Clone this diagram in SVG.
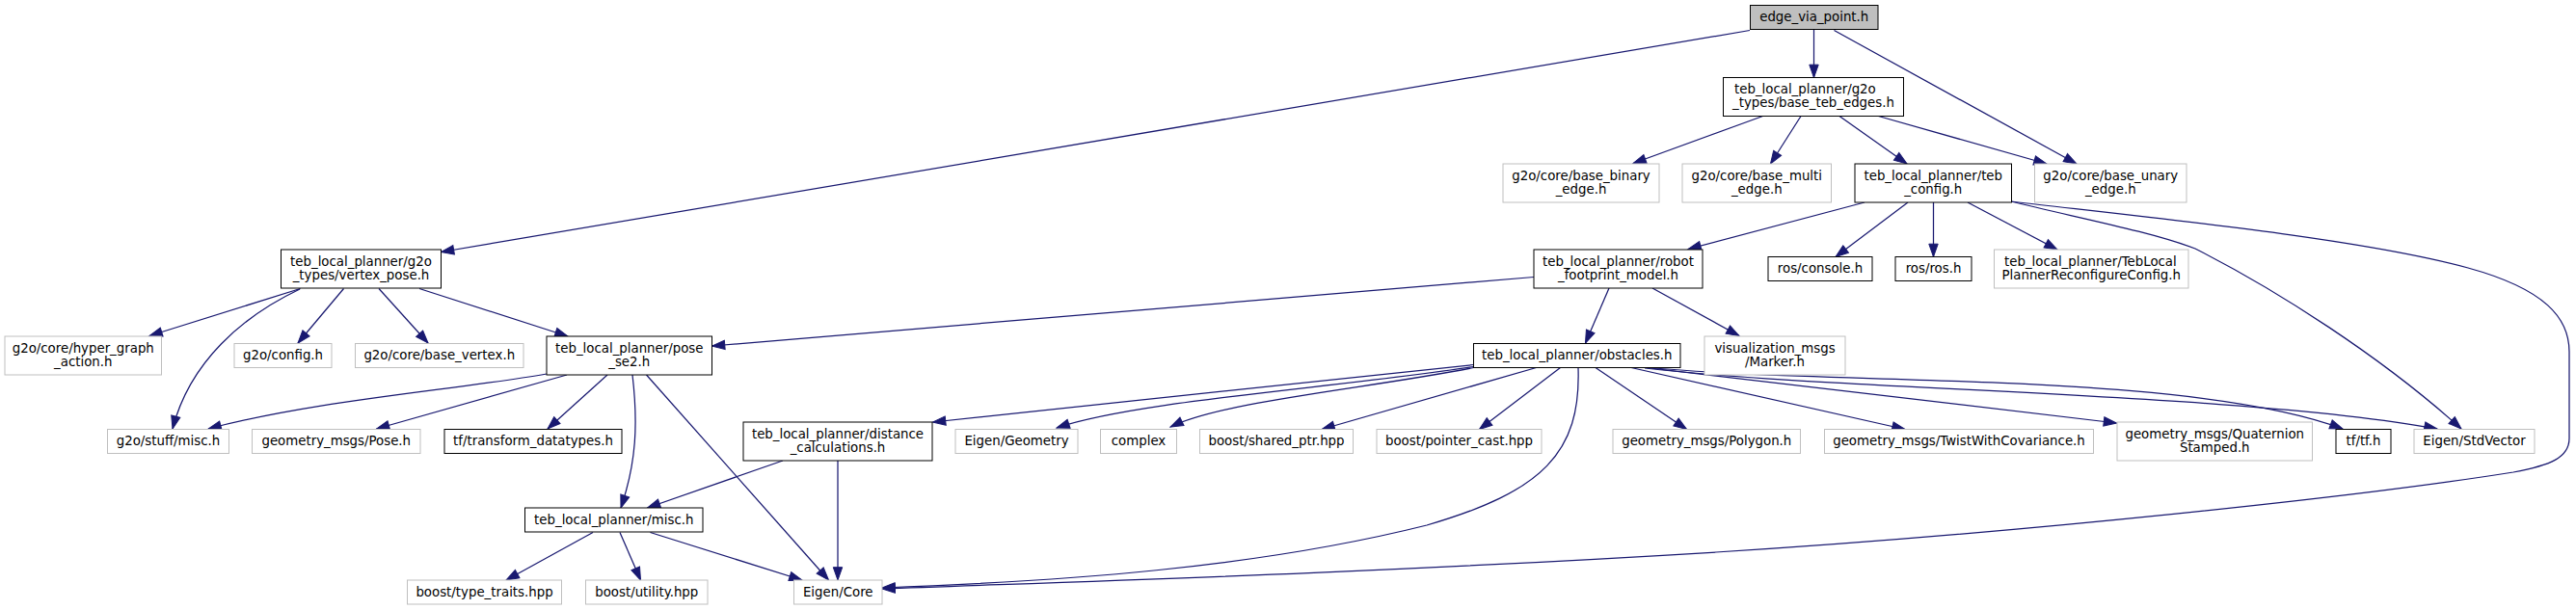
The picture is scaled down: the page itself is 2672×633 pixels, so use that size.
<svg xmlns="http://www.w3.org/2000/svg" width="2672" height="633" viewBox="0 0 2672 633">
<style>
text{font-family:"DejaVu Sans","Liberation Sans",sans-serif;font-size:13.33px;fill:#000;text-anchor:middle}
text.s{text-anchor:start}
rect{fill:#fff;stroke-width:1}
.d rect{stroke:#000}
.u rect{stroke:#bfbfbf}
.r rect{stroke:#000;fill:#bfbfbf}
#edges path{fill:none;stroke:#191970;stroke-width:1.25;marker-end:url(#a)}
</style>
<defs>
<marker id="a" markerUnits="userSpaceOnUse" markerWidth="14" markerHeight="10" refX="13.3" refY="4.7" orient="auto" overflow="visible">
<path d="M0,0 L13.3,4.7 L0,9.4 z" fill="#191970" stroke="#191970" stroke-width="1"/>
</marker>
</defs>
<rect x="0" y="0" width="2672" height="633" style="fill:#fff;stroke:none"/>
<g id="edges">
<path d="M1881.5,31 L1881.5,80.5"/>
<path d="M1902.5,31.5 L2154,170"/>
<path d="M1815,31.5 L457.5,261.5"/>
<path d="M1828.5,120.5 L1694,169.5"/>
<path d="M1868,120.5 L1836.5,170"/>
<path d="M1908,120.5 L1978,170"/>
<path d="M1948.5,120.5 L2123,170"/>
<path d="M1934,210 L1751,258.5"/>
<path d="M1979,210 L1904,266.5"/>
<path d="M2005.5,210 L2005.5,266.5"/>
<path d="M2041,210 L2134,259"/>
<path d="M2086,209 C2150,225 2230,240 2277,258 C2360,300 2470,370 2553,445"/>
<path d="M2086,209 C2250,228 2450,248 2560,278 C2640,300 2665,330 2665,365 L2665,455 C2665,475 2645,483 2607,490 C2450,515 2100,553 1780,573 C1400,596 1100,604 915,611"/>
<path d="M1591,287.5 L738.5,359"/>
<path d="M1669,299 L1644.5,356"/>
<path d="M1714,299 L1804,348.5"/>
<path d="M311.5,299.5 L155,348.5"/>
<path d="M311,300 C252,328 197,375 179,445"/>
<path d="M356.5,299.5 L309,356"/>
<path d="M393,299.5 L444,356"/>
<path d="M435,299.5 L589,349"/>
<path d="M567,388 C470,405 330,415 216,445"/>
<path d="M588,389 L390.5,445"/>
<path d="M630,389 L568,445"/>
<path d="M656,389 C662,440 660,480 644,527"/>
<path d="M670.5,389 L859.5,602"/>
<path d="M812,478 L671.5,527"/>
<path d="M869,478 L869,602"/>
<path d="M615,552.5 L525,602"/>
<path d="M643,552.5 L664.5,602"/>
<path d="M674.5,552.5 L832,602"/>
<path d="M1528.5,378.5 L967.5,438"/>
<path d="M1528.5,380.5 C1380,403 1180,416 1096,444"/>
<path d="M1528.5,381.5 C1420,403 1270,416 1214,443"/>
<path d="M1593.5,381.5 L1371,445.5"/>
<path d="M1618.5,381.5 L1534.5,445.5"/>
<path d="M1637,381.5 C1640,470 1600,510 1480,545 C1300,590 1100,603 915,610"/>
<path d="M1655,381.5 L1749.5,445.5"/>
<path d="M1692,381.5 L1976,445.5"/>
<path d="M1703.5,381 L2195.5,439"/>
<path d="M1706,381 C1900,400 2270,385 2430,445"/>
<path d="M1706,382 C1900,405 2330,408 2528,445"/>
</g>
<g id="n0" class="r"><rect x="1815.5" y="5.5" width="132.5" height="25"/><text x="1881.75" y="22">edge_via_point.h</text></g>
<g id="n1" class="d"><rect x="1787.5" y="80.5" width="187" height="40"/><text class="s" x="1799" y="97">teb_local_planner/g2o</text><text x="1881" y="111">_types/base_teb_edges.h</text></g>
<g id="n2" class="u"><rect x="1559" y="170" width="162" height="40"/><text x="1640" y="186.5">g2o/core/base_binary</text><text x="1640" y="200.5">_edge.h</text></g>
<g id="n3" class="u"><rect x="1745" y="170" width="154.5" height="40"/><text x="1822.25" y="186.5">g2o/core/base_multi</text><text x="1822.25" y="200.5">_edge.h</text></g>
<g id="n4" class="d"><rect x="1924" y="170" width="162.5" height="40"/><text x="2005.25" y="186.5">teb_local_planner/teb</text><text x="2005.25" y="200.5">_config.h</text></g>
<g id="n5" class="u"><rect x="2110.5" y="170" width="157.5" height="40"/><text x="2189.25" y="186.5">g2o/core/base_unary</text><text x="2189.25" y="200.5">_edge.h</text></g>
<g id="n6" class="d"><rect x="1591" y="259" width="175" height="40"/><text x="1678.5" y="275.5">teb_local_planner/robot</text><text x="1678.5" y="289.5">_footprint_model.h</text></g>
<g id="n7" class="d"><rect x="1834" y="266.5" width="108" height="25"/><text x="1888" y="283">ros/console.h</text></g>
<g id="n8" class="d"><rect x="1966" y="266.5" width="79" height="25"/><text x="2005.5" y="283">ros/ros.h</text></g>
<g id="n9" class="u"><rect x="2068.5" y="259" width="201.5" height="40"/><text class="s" x="2079" y="275.5">teb_local_planner/TebLocal</text><text x="2169.25" y="289.5">PlannerReconfigureConfig.h</text></g>
<g id="n10" class="d"><rect x="291.5" y="259" width="166" height="40"/><text x="374.5" y="275.5">teb_local_planner/g2o</text><text x="374.5" y="289.5">_types/vertex_pose.h</text></g>
<g id="n11" class="u"><rect x="5" y="349" width="162.5" height="40"/><text x="86.25" y="365.5">g2o/core/hyper_graph</text><text x="86.25" y="379.5">_action.h</text></g>
<g id="n12" class="u"><rect x="243" y="356.5" width="101" height="25"/><text x="293.5" y="373">g2o/config.h</text></g>
<g id="n13" class="u"><rect x="368.5" y="356.5" width="174.5" height="25"/><text x="455.75" y="373">g2o/core/base_vertex.h</text></g>
<g id="n14" class="d"><rect x="567" y="349" width="171.5" height="40"/><text x="652.75" y="365.5">teb_local_planner/pose</text><text x="652.75" y="379.5">_se2.h</text></g>
<g id="n15" class="d"><rect x="1528.5" y="356.5" width="214.5" height="25"/><text x="1635.75" y="373">teb_local_planner/obstacles.h</text></g>
<g id="n16" class="u"><rect x="1768" y="349" width="146" height="40"/><text x="1841" y="365.5">visualization_msgs</text><text x="1841" y="379.5">/Marker.h</text></g>
<g id="n17" class="u"><rect x="111.5" y="445.5" width="126" height="25"/><text x="174.5" y="462">g2o/stuff/misc.h</text></g>
<g id="n18" class="u"><rect x="261.5" y="445.5" width="174.5" height="25"/><text x="348.75" y="462">geometry_msgs/Pose.h</text></g>
<g id="n19" class="d"><rect x="461" y="445.5" width="184" height="25"/><text x="553" y="462">tf/transform_datatypes.h</text></g>
<g id="n20" class="d"><rect x="771" y="438" width="196" height="40"/><text x="869" y="454.5">teb_local_planner/distance</text><text x="869" y="468.5">_calculations.h</text></g>
<g id="n21" class="u"><rect x="991" y="445.5" width="127" height="25"/><text x="1054.5" y="462">Eigen/Geometry</text></g>
<g id="n22" class="u"><rect x="1141.5" y="445.5" width="79" height="25"/><text x="1181" y="462">complex</text></g>
<g id="n23" class="u"><rect x="1244.5" y="445.5" width="159" height="25"/><text x="1324" y="462">boost/shared_ptr.hpp</text></g>
<g id="n24" class="u"><rect x="1428" y="445.5" width="171" height="25"/><text x="1513.5" y="462">boost/pointer_cast.hpp</text></g>
<g id="n25" class="u"><rect x="1673" y="445.5" width="194.5" height="25"/><text x="1770.25" y="462">geometry_msgs/Polygon.h</text></g>
<g id="n26" class="u"><rect x="1892.5" y="445.5" width="279" height="25"/><text x="2032" y="462">geometry_msgs/TwistWithCovariance.h</text></g>
<g id="n27" class="u"><rect x="2196" y="438" width="202.5" height="40"/><text x="2297.25" y="454.5">geometry_msgs/Quaternion</text><text x="2297.25" y="468.5">Stamped.h</text></g>
<g id="n28" class="d"><rect x="2423" y="445.5" width="57" height="25"/><text x="2451.5" y="462">tf/tf.h</text></g>
<g id="n29" class="u"><rect x="2504" y="445.5" width="125" height="25"/><text x="2566.5" y="462">Eigen/StdVector</text></g>
<g id="n30" class="d"><rect x="544.5" y="527" width="184.5" height="25"/><text x="636.75" y="543.5">teb_local_planner/misc.h</text></g>
<g id="n31" class="u"><rect x="422.5" y="602" width="160" height="25"/><text x="502.5" y="618.5">boost/type_traits.hpp</text></g>
<g id="n32" class="u"><rect x="607.5" y="602" width="126.5" height="25"/><text x="670.75" y="618.5">boost/utility.hpp</text></g>
<g id="n33" class="u"><rect x="823.5" y="602" width="91.5" height="25"/><text x="869.25" y="618.5">Eigen/Core</text></g>
</svg>
